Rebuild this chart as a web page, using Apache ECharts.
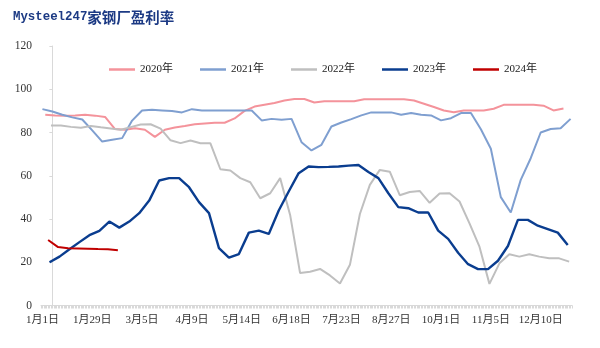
<!DOCTYPE html>
<html>
<head>
<meta charset="utf-8">
<script src="https://cdn.jsdelivr.net/npm/echarts@6/dist/echarts.min.js"></script>
<style>
  html, body { margin: 0; padding: 0; background: #fff; }
  #chart { width: 600px; height: 348px; }
</style>
</head>
<body>
<div id="chart"></div>
<script>
// Weekly profitability rate (%) of 247 steel mills, one line per year.
const seriesNames = ['2020年', '2021年', '2022年', '2023年', '2024年'];
const seriesYears = [2020, 2021, 2022, 2023, 2024];
// First weekly reading of each year's line (the last Friday of the prior year)
const firstDates = ['2019-12-27', '2020-12-25', '2021-12-31', '2022-12-30', '2023-12-29'];

const values2020 = [88.2, 87.9, 87.7, 87.9, 88.2, 87.8, 87.2, 81.6, 81.3, 82.0,
  81.3, 78.0, 81.3, 82.3, 83.0, 83.8, 84.2, 84.5, 84.5, 86.5,
  90.0, 92.0, 92.8, 93.6, 94.8, 95.5, 95.5, 93.9, 94.4, 94.4,
  94.4, 94.5, 95.4, 95.4, 95.4, 95.4, 95.4, 94.8, 93.3, 91.8,
  90.2, 89.4, 90.2, 90.2, 90.2, 91.0, 92.8, 92.8, 92.8, 92.8,
  92.4, 90.2, 91.1];
const values2021 = [90.8, 89.7, 88.2, 87.0, 86.0, 81.0, 75.8, 76.6, 77.4, 85.5,
  90.2, 90.5, 90.2, 89.9, 89.3, 90.8, 90.2, 90.2, 90.2, 90.2,
  90.2, 90.2, 85.6, 86.3, 85.9, 86.3, 75.5, 71.7, 74.3, 82.8,
  84.6, 86.2, 87.9, 89.3, 89.3, 89.3, 88.2, 89.0, 88.2, 87.9,
  85.6, 86.6, 89.0, 89.0, 81.5, 72.5, 50.1, 43.0, 58.1, 68.1,
  80.0, 81.6, 82.0, 86.3];
const values2022 = [83.2, 83.2, 82.6, 82.2, 83.0, 82.4, 81.9, 81.3, 82.5, 83.7,
  83.8, 81.8, 76.4, 75.1, 76.3, 75.0, 75.0, 63.0, 62.4, 58.9,
  57.0, 49.6, 51.9, 58.9, 41.9, 15.0, 15.6, 16.9, 13.9, 10.2,
  18.8, 42.3, 55.8, 62.7, 61.9, 51.0, 52.5, 53.0, 47.5, 51.8,
  51.9, 48.1, 38.0, 27.2, 10.0, 19.5, 23.7, 22.6, 23.7, 22.6,
  21.8, 21.8, 20.3];
const values2023 = [20.0, 22.6, 26.0, 29.3, 32.5, 34.5, 38.8, 36.0, 38.8, 42.7,
  48.5, 57.8, 58.9, 58.9, 54.7, 47.8, 42.7, 26.5, 22.1, 23.8,
  33.7, 34.6, 33.1, 43.9, 52.7, 61.2, 64.3, 64.0, 64.1, 64.3,
  64.7, 65.0, 61.7, 58.9, 51.9, 45.5, 45.0, 43.0, 43.0, 34.6,
  30.8, 24.4, 19.1, 16.8, 16.8, 20.7, 27.5, 39.6, 39.6, 36.9,
  35.3, 33.7, 28.0];
const values2024 = [30.3, 27.0, 26.5, 26.4, 26.3, 26.1, 26.0, 25.5];
const seriesValues = [values2020, values2021, values2022, values2023, values2024];

const seriesColors = ['#f4939b', '#7f9fd0', '#bfbfbf', '#0a3d8f', '#c00000'];
const seriesWidths = [2, 2, 2, 2.4, 2];

// Date-axis labels and where they sit (days from 1 January)
const tickLabels = ['1月1日', '1月29日', '3月5日', '4月9日', '5月14日', '6月18日',
  '7月23日', '8月27日', '10月1日', '11月5日', '12月10日'];
const tickDays = [-7, 28, 63, 98, 133, 168, 203, 238, 273, 308, 343];

const yTicks = [0, 20, 40, 60, 80, 100, 120];

function dayOfYear(dateStr, year) {
  const [y, m, d] = dateStr.split('-').map(Number);
  return (Date.UTC(y, m - 1, d) - Date.UTC(year, 0, 1)) / 864e5;
}

function weeklyPoints(startDate, year, vals) {
  const d0 = dayOfYear(startDate, year);
  return vals.map((v, i) => [d0 + 7 * i, v]);
}

const X_MIN = -8, X_MAX = 365;
const dailyTicks = [];
for (let d = X_MIN; d <= X_MAX; d++) dailyTicks.push(d);

const serif = '"Liberation Serif", "Noto Sans CJK SC", serif';

const chart = echarts.init(document.getElementById('chart'), null, { renderer: 'canvas' });

chart.setOption({
  animation: false,
  backgroundColor: '#ffffff',
  title: {
    text: '{a|Mysteel247}{b|家钢厂盈利率}',
    left: 8,
    top: 5,
    textStyle: {
      rich: {
        a: { fontFamily: '"Liberation Mono", monospace', fontWeight: 'bold', fontSize: 12.4, color: '#1c3a84' },
        b: { fontFamily: '"Noto Sans CJK SC", sans-serif', fontWeight: 'bold', fontSize: 14.5, color: '#1c3a84' }
      }
    }
  },
  legend: {
    left: 104,
    top: 59,
    itemWidth: 26,
    itemHeight: 2.5,
    itemGap: 27,
    icon: 'rect',
    textStyle: { fontFamily: serif, fontSize: 11, color: '#1a1a1a' },
    data: seriesNames
  },
  grid: { left: 41, right: 28, top: 46, bottom: 42.5, containLabel: false },
  xAxis: {
    type: 'value',
    min: X_MIN,
    max: X_MAX,
    axisLine: { show: true, lineStyle: { color: '#d9d9d9', width: 1 } },
    axisTick: {
      show: true,
      customValues: dailyTicks,
      length: 3,
      lineStyle: { color: '#d9d9d9', width: 1 }
    },
    axisLabel: {
      customValues: tickDays,
      margin: 9,
      fontFamily: serif,
      fontSize: 11,
      color: '#333333',
      formatter: v => {
        const i = tickDays.indexOf(v);
        return i >= 0 ? tickLabels[i] : '';
      }
    },
    splitLine: { show: false }
  },
  yAxis: {
    type: 'value',
    min: yTicks[0],
    max: yTicks[yTicks.length - 1],
    interval: 20,
    axisLine: { show: true, lineStyle: { color: '#d9d9d9', width: 1 } },
    axisTick: { show: true, length: 3, lineStyle: { color: '#d9d9d9' } },
    axisLabel: { margin: 9, fontFamily: serif, fontSize: 11.5, color: '#333333' },
    splitLine: { show: false }
  },
  series: seriesNames.map((name, i) => ({
    name,
    type: 'line',
    data: weeklyPoints(firstDates[i], seriesYears[i], seriesValues[i]),
    showSymbol: false,
    symbol: 'none',
    lineStyle: { color: seriesColors[i], width: seriesWidths[i] },
    itemStyle: { color: seriesColors[i] },
    z: 2 + i
  }))
});
</script>
</body>
</html>
